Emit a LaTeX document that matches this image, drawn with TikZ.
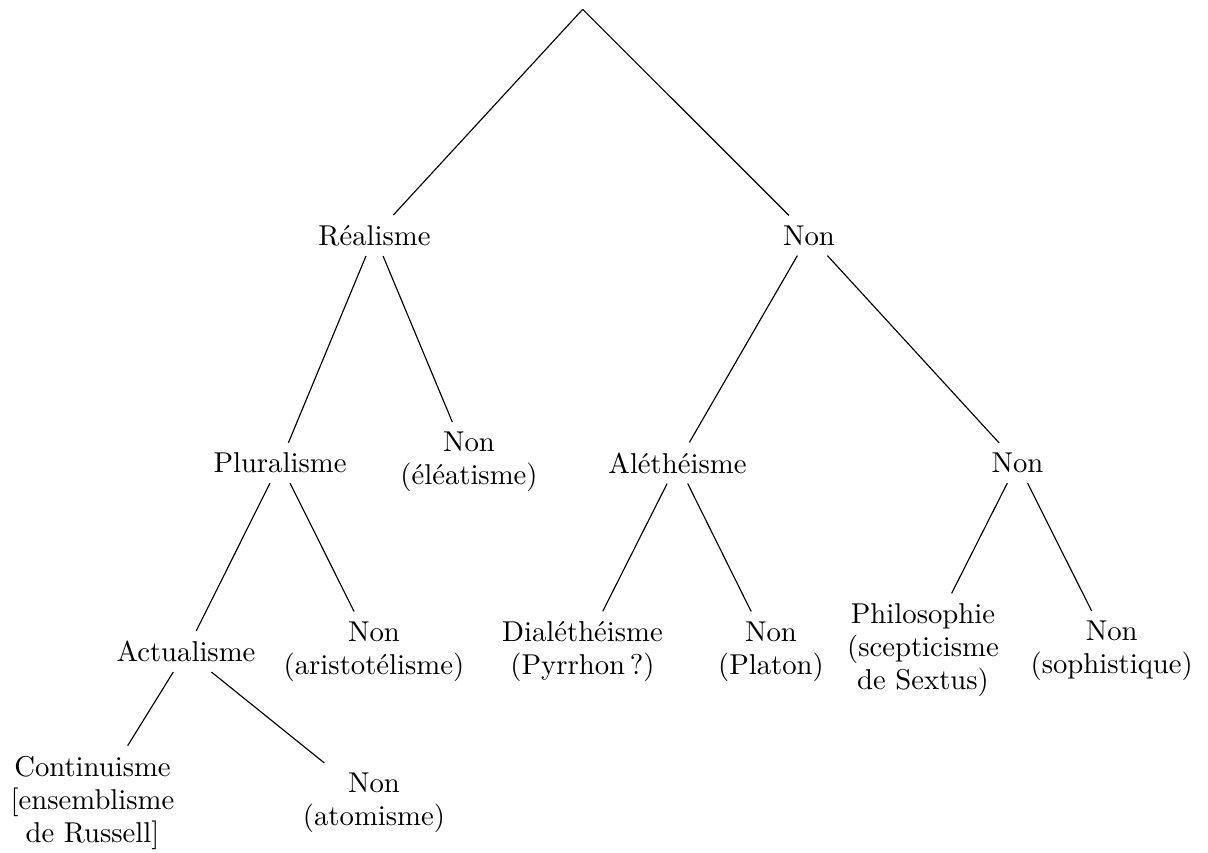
\documentclass[tikz,border=0pt]{standalone}
\usepackage{fontspec}
\begin{document}
\begin{tikzpicture}[x=0.34843pt,y=-0.34843pt,
  lbl/.style={align=center,font=\fontsize{10}{11.5}\selectfont},
  edge/.style={line width=0.4pt}]
\useasboundingbox (0,0) rectangle (1208,852);
\coordinate (root) at (582.7,9.3);
\node[lbl] (real) at (374.5,235.5) {Réalisme};
\node[lbl] (non1) at (809,235.5) {Non};
\node[lbl] (plur) at (280,463) {Pluralisme};
\node[lbl] (elea) at (469,462) {Non\\(éléatisme)};
\node[lbl] (alet) at (677.5,463) {Aléthéisme};
\node[lbl] (non2) at (1017.5,463) {Non};
\node[lbl] (actu) at (186,651.5) {Actualisme};
\node[lbl] (aris) at (374,651.5) {Non\\(aristotélisme)};
\node[lbl] (dial) at (582.5,651.5) {Dialéthéisme\\(Pyrrhon\,?)};
\node[lbl] (plat) at (771,651.5) {Non\\(Platon)};
\node[lbl] (phil) at (923,650) {Philosophie\\(scepticisme\\de Sextus)};
\node[lbl] (soph) at (1111.7,651) {Non\\(sophistique)};
\node[lbl] (cont) at (92.5,802.5) {Continuisme\\{[}ensemblisme\\de Russell{]}};
\node[lbl] (atom) at (374,803) {Non\\(atomisme)};
\draw[edge] (root) -- (real);
\draw[edge] (root) -- (non1);
\draw[edge] (real) -- (plur);
\draw[edge] (real) -- (elea);
\draw[edge] (non1) -- (alet);
\draw[edge] (non1) -- (non2);
\draw[edge] (plur) -- (actu);
\draw[edge] (plur) -- (aris);
\draw[edge] (alet) -- (dial);
\draw[edge] (alet) -- (plat);
\draw[edge] (non2) -- (phil);
\draw[edge] (non2) -- (soph);
\draw[edge] (actu) -- (cont);
\draw[edge] (actu) -- (atom);
\end{tikzpicture}
\end{document}
